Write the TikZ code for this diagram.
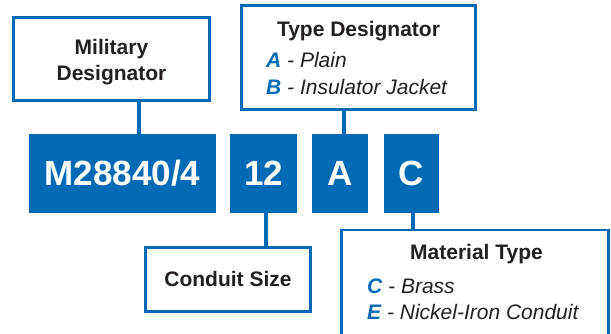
\documentclass[tikz,border=0pt]{standalone}
\usepackage{fontspec}
\setmainfont{Liberation Sans}
\definecolor{cblue}{RGB}{0,106,180}
\definecolor{ctext}{RGB}{35,31,32}
\begin{document}
\begin{tikzpicture}[x=1pt,y=-1pt,
  frame/.style={draw=cblue, line width=2.8pt, fill=white, inner sep=0pt, rectangle},
  block/.style={fill=cblue, text=white, font=\fontsize{35}{40}\selectfont\bfseries, inner sep=0pt, minimum height=79pt},
  conn/.style={draw=cblue, line width=4pt},
  title/.style={font=\fontsize{21}{26}\selectfont\bfseries, text=ctext, anchor=base, inner sep=0pt},
  item/.style={font=\fontsize{21}{26}\selectfont\itshape, text=ctext, anchor=base west, inner sep=0pt}]
\useasboundingbox (0,0) rectangle (611,334);
% connector x positions
\coordinate (k1) at (139,0);
\coordinate (k2) at (344,0);
\coordinate (k3) at (266,0);
\coordinate (k4) at (413,0);
% frames
\node[frame, minimum width=196.5pt, minimum height=83.5pt] (mil) at (111.5,59) {};
\node[frame, minimum width=234.5pt, minimum height=104.5pt] (typ) at (358.5,57.5) {};
\node[frame, minimum width=165.5pt, minimum height=64.5pt] (cond) at (228,279.5) {};
\node[frame, minimum width=267.5pt, minimum height=106pt] (mat) at (475,283) {};
% blocks
\node[block, minimum width=187pt] (b1) at (122.5,173.5) {M28840/4};
\node[block, minimum width=67pt] (b2) at (263.5,173.5) {12};
\node[block, minimum width=56pt] (b3) at (340,173.5) {A};
\node[block, minimum width=55pt] (b4) at (411.5,173.5) {C};
% connectors
\draw[conn] (mil.south -| k1) -- (b1.north -| k1);
\draw[conn] (typ.south -| k2) -- (b3.north -| k2);
\draw[conn] (b2.south -| k3) -- (cond.north -| k3);
\draw[conn] (b4.south -| k4) -- (mat.north -| k4);
% texts
\node[font=\fontsize{21}{26.5}\selectfont\bfseries, text=ctext, align=center, inner sep=0pt] (milt) at (111.5,62) {Military\\Designator};
\node[title] (typt) at (358.5,36.5) {Type Designator};
\node[item] (ta) at (266,68) {\textcolor{cblue}{\bfseries A} - Plain};
\node[item] (tb) at (266,95) {\textcolor{cblue}{\bfseries B} - Insulator Jacket};
\node[title] (condt) at (228,286) {Conduit Size};
\node[title] (matt) at (476.5,259) {Material Type};
\node[item] (mc) at (367,293) {\textcolor{cblue}{\bfseries C} - Brass};
\node[item] (me) at (367,319) {\textcolor{cblue}{\bfseries E} - Nickel-Iron Conduit};
\end{tikzpicture}
\end{document}
